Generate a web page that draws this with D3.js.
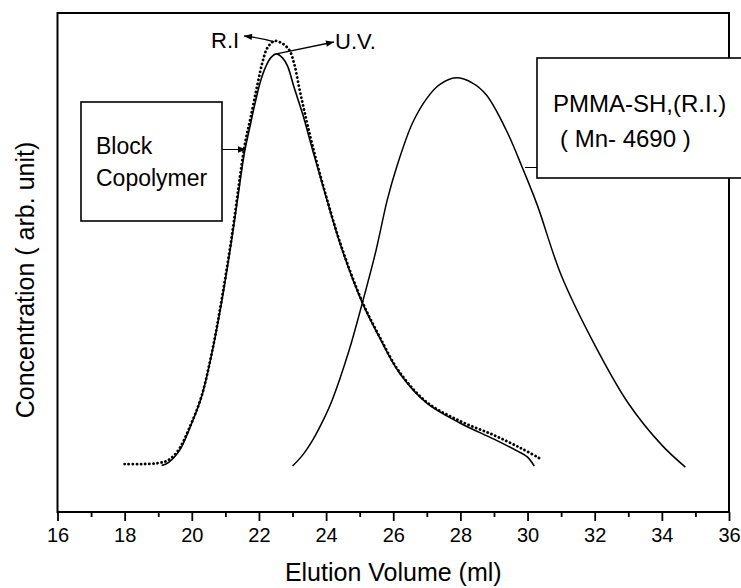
<!DOCTYPE html>
<html>
<head>
<meta charset="utf-8">
<script src="https://d3js.org/d3.v7.min.js"></script>
<style>
    body { margin: 0; background: #fff; }
    svg text { font-family: "Liberation Sans", Arial, sans-serif; fill: #000; }
</style>
</head>
<body>
<svg id="chart"></svg>
<script>
// elution volume (ml) / concentration (arb. unit, 0..100 scale)
var blockUvX = [19.1, 19.3, 19.64, 19.95, 20.29, 20.62, 20.9, 21.2, 21.36, 21.57, 21.75, 21.9, 22.05, 22.2, 22.35, 22.52,
    22.7, 22.85, 23.05, 23.3, 23.6, 24.0, 24.48, 25.08, 25.58, 26.18, 27.0, 28.0, 29.0, 29.7, 30.0, 30.2];
var blockUvY = [9.3, 9.9, 12.4, 17.0, 23.1, 32.5, 42.5, 55.1, 62.5, 72.1, 77.8, 82.4, 86.4, 89.2, 91.0, 91.8,
    91.0, 89.4, 85.0, 79.8, 72.5, 63.1, 52.5, 41.9, 35.1, 27.9, 21.8, 17.8, 14.6, 12.2, 11.0, 9.2];

var blockRiX = [18.0, 18.5, 19.0, 19.3, 19.6, 19.95, 20.29, 20.62, 20.9, 21.2, 21.57, 21.75, 21.96, 22.1, 22.25, 22.46,
    22.67, 22.9, 23.05, 23.2, 23.35, 23.6, 24.0, 24.48, 25.08, 25.58, 26.18, 27.0, 28.0, 29.0, 29.8, 30.4];
var blockRiY = [9.6, 9.6, 9.8, 10.4, 12.4, 17.2, 23.2, 32.7, 43.0, 55.7, 73.3, 79.0, 85.8, 90.0, 93.0, 94.4,
    94.0, 92.6, 89.8, 85.0, 80.4, 73.3, 63.3, 52.7, 42.1, 35.3, 28.1, 22.0, 18.2, 15.4, 12.8, 10.6];

var pmmaX = [23.0, 23.3, 23.6, 23.9, 24.18, 24.69, 25.08, 25.49, 25.82, 26.1, 26.57, 27.0, 27.37, 27.87, 28.35, 28.77,
    29.36, 29.84, 30.29, 31.0, 32.0, 33.0, 34.0, 34.7];
var pmmaY = [9.2, 11.4, 14.4, 18.2, 22.4, 32.5, 41.9, 52.5, 62.5, 69.1, 77.9, 82.9, 85.6, 87.0, 86.0, 83.6,
    76.6, 69.1, 61.5, 47.5, 33.5, 21.8, 13.4, 9.0];

var xTicks = [16, 18, 20, 22, 24, 26, 28, 30, 32, 34, 36];
var xMinorTicks = [17, 19, 21, 23, 25, 27, 29, 31, 33, 35];

var width = 741, height = 588;
var margin = {left: 57.5, right: 12, top: 13, bottom: 76};

var svg = d3.select("#chart")
    .attr("width", width)
    .attr("height", height);

var x = d3.scaleLinear().domain([16, 36]).range([margin.left, width - margin.right]);
var y = d3.scaleLinear().domain([0, 100]).range([height - margin.bottom, margin.top]);

var defs = svg.append("defs");
defs.append("marker")
    .attr("id", "arrow")
    .attr("viewBox", "0 0 10 10")
    .attr("refX", 10)
    .attr("refY", 5)
    .attr("markerWidth", 11)
    .attr("markerHeight", 8)
    .attr("markerUnits", "userSpaceOnUse")
    .attr("orient", "auto")
    .append("path")
    .attr("d", "M0,1 L10,5 L0,9 Z")
    .attr("fill", "#000");

// frame
svg.append("rect")
    .attr("x", x(16))
    .attr("y", y(100))
    .attr("width", x(36) - x(16))
    .attr("height", y(0) - y(100))
    .attr("fill", "none")
    .attr("stroke", "#000")
    .attr("stroke-width", 2);

// bottom axis, ticks pointing out
var xAxis = d3.axisBottom(x).tickValues(xTicks).tickSize(9).tickPadding(7).tickFormat(d3.format("d"));
var gx = svg.append("g")
    .attr("transform", "translate(0," + y(0) + ")")
    .call(xAxis);
gx.select(".domain").remove();
gx.selectAll(".tick line").attr("stroke-width", 1.8);
gx.selectAll(".tick text").style("font-size", "20px");

var gMinor = svg.append("g")
    .attr("transform", "translate(0," + y(0) + ")")
    .call(d3.axisBottom(x).tickValues(xMinorTicks).tickSize(5).tickFormat(""));
gMinor.select(".domain").remove();
gMinor.selectAll(".tick line").attr("stroke-width", 1.8);

svg.append("text")
    .attr("x", (x(16) + x(36)) / 2)
    .attr("y", 581)
    .attr("text-anchor", "middle")
    .style("font-size", "25px")
    .text("Elution Volume (ml)");

svg.append("text")
    .attr("transform", "translate(34," + 280 + ") rotate(-90)")
    .attr("text-anchor", "middle")
    .style("font-size", "25px")
    .text("Concentration ( arb. unit)");

function toPoints(xs, ys) {
    return xs.map(function (d, i) { return [d, ys[i]]; });
}

var line = d3.line()
    .x(function (d) { return x(d[0]); })
    .y(function (d) { return y(d[1]); })
    .curve(d3.curveCatmullRom.alpha(0.5));

svg.append("path")
    .datum(toPoints(pmmaX, pmmaY))
    .attr("d", line)
    .attr("fill", "none")
    .attr("stroke", "#000")
    .attr("stroke-width", 1.5);

svg.append("path")
    .datum(toPoints(blockUvX, blockUvY))
    .attr("d", line)
    .attr("fill", "none")
    .attr("stroke", "#000")
    .attr("stroke-width", 1.6);

svg.append("path")
    .datum(toPoints(blockRiX, blockRiY))
    .attr("d", line)
    .attr("fill", "none")
    .attr("stroke", "#000")
    .attr("stroke-width", 2.8)
    .attr("stroke-linecap", "round")
    .attr("stroke-dasharray", "0.1 4");

// R.I / U.V. labels with arrows from the peaks
svg.append("path")
    .attr("d", "M" + x(22.46) + "," + (y(94.4) + 1) + " Q" + (x(22.1)) + "," + (y(94.4) - 3) + " " + 244 + "," + 36)
    .attr("fill", "none")
    .attr("stroke", "#000")
    .attr("stroke-width", 1.3)
    .attr("marker-end", "url(#arrow)");
svg.append("text")
    .attr("x", 211)
    .attr("y", 48)
    .style("font-size", "22px")
    .text("R.I");

svg.append("line")
    .attr("x1", x(22.52))
    .attr("y1", y(91.8))
    .attr("x2", 334)
    .attr("y2", 42)
    .attr("stroke", "#000")
    .attr("stroke-width", 1.3)
    .attr("marker-end", "url(#arrow)");
svg.append("text")
    .attr("x", 335)
    .attr("y", 49)
    .style("font-size", "22px")
    .text("U.V.");

// Block Copolymer box
svg.append("rect")
    .attr("x", 81)
    .attr("y", 102)
    .attr("width", 141)
    .attr("height", 119)
    .attr("fill", "#fff")
    .attr("stroke", "#000")
    .attr("stroke-width", 1.6);
svg.append("text").attr("x", 96).attr("y", 154).style("font-size", "23px").text("Block");
svg.append("text").attr("x", 96).attr("y", 186).style("font-size", "23px").text("Copolymer");
svg.append("line")
    .attr("x1", 222).attr("y1", 149.5)
    .attr("x2", 246).attr("y2", 149.5)
    .attr("stroke", "#000")
    .attr("stroke-width", 1)
    .attr("marker-end", "url(#arrow)");

// PMMA-SH box
svg.append("rect")
    .attr("x", 537)
    .attr("y", 58)
    .attr("width", 220)
    .attr("height", 120)
    .attr("fill", "#fff")
    .attr("stroke", "#000")
    .attr("stroke-width", 1.6);
svg.append("text").attr("x", 553).attr("y", 112).style("font-size", "24px").text("PMMA-SH,(R.I.)");
svg.append("text").attr("x", 560).attr("y", 147).style("font-size", "24px").text("( Mn- 4690 )");
svg.append("line")
    .attr("x1", 525).attr("y1", 167.5)
    .attr("x2", 537).attr("y2", 167.5)
    .attr("stroke", "#000")
    .attr("stroke-width", 1)
    .attr("marker-end", null);
</script>
</body>
</html>
